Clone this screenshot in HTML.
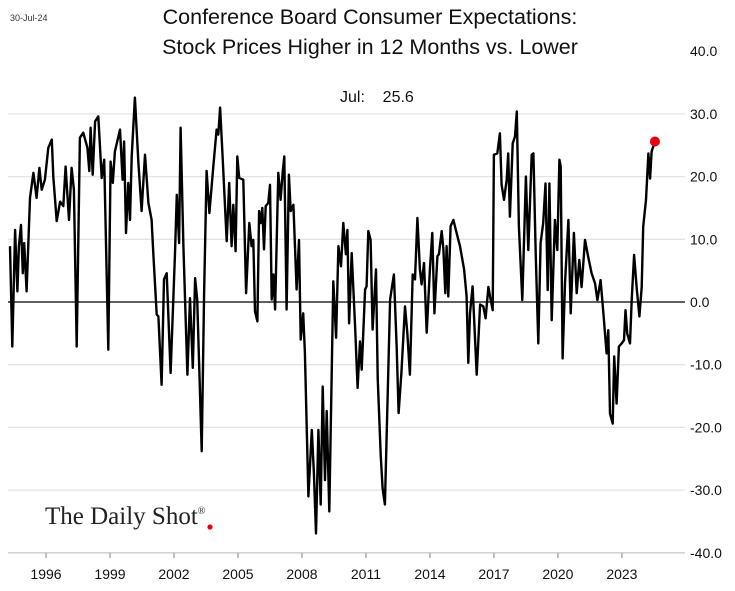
<!DOCTYPE html>
<html><head><meta charset="utf-8"><style>
body{margin:0;background:#fff;width:735px;height:586px;overflow:hidden}
.sans{font-family:"Liberation Sans",sans-serif}
</style></head><body>
<svg id="chart" width="735" height="586" xmlns="http://www.w3.org/2000/svg">
<text class="sans" x="10" y="21" font-size="9" fill="#333">30-Jul-24</text>
<text class="sans" x="370" y="24" font-size="21.5" text-anchor="middle" fill="#111">Conference Board Consumer Expectations:</text>
<text class="sans" x="370" y="54" font-size="21.5" text-anchor="middle" fill="#111">Stock Prices Higher in 12 Months vs. Lower</text>
<text class="sans" x="340" y="102" font-size="16" fill="#111">Jul:&#160;&#160;&#160;&#160;25.6</text>
<g id="grid"></g><g id="yl"></g><g id="xl"></g>
<path id="line" fill="none" stroke="#000" stroke-width="2.4" stroke-linejoin="round"/>
<circle id="dot" r="5" fill="#e8000b"/>
<text x="45" y="524" style="font-family:'Liberation Serif',serif" font-size="25" fill="#222">The Daily Shot<tspan font-size="10" dy="-10">®</tspan></text>
<circle cx="210" cy="527" r="2.6" fill="#e8000b"/>
</svg>
<script>
const yTicks=[40,30,20,10,0,-10,-20,-30,-40];
const xTicks=[1996,1999,2002,2005,2008,2011,2014,2017,2020,2023];
const dates=[1994.31,1994.42,1994.55,1994.66,1994.73,1994.83,1994.91,1994.98,1995.09,1995.25,1995.41,1995.56,1995.69,1995.80,1995.95,1996.11,1996.27,1996.34,1996.50,1996.66,1996.81,1996.92,1997.08,1997.20,1997.31,1997.44,1997.59,1997.75,1997.94,1998.03,1998.09,1998.19,1998.30,1998.45,1998.61,1998.73,1998.92,1999.03,1999.13,1999.23,1999.47,1999.59,1999.66,1999.75,1999.86,1999.94,2000.02,2000.17,2000.33,2000.48,2000.64,2000.80,2000.95,2001.03,2001.19,2001.27,2001.42,2001.53,2001.66,2001.84,2002.05,2002.13,2002.24,2002.31,2002.44,2002.63,2002.75,2002.88,2002.99,2003.09,2003.19,2003.30,2003.41,2003.53,2003.66,2003.84,2004.00,2004.08,2004.16,2004.28,2004.47,2004.59,2004.70,2004.78,2004.89,2004.97,2005.06,2005.25,2005.38,2005.53,2005.64,2005.72,2005.80,2005.91,2005.99,2006.06,2006.14,2006.22,2006.30,2006.42,2006.50,2006.58,2006.66,2006.74,2006.89,2007.00,2007.10,2007.17,2007.28,2007.39,2007.47,2007.60,2007.75,2007.86,2007.94,2008.06,2008.14,2008.30,2008.46,2008.56,2008.66,2008.77,2008.88,2008.97,2009.08,2009.16,2009.28,2009.47,2009.60,2009.71,2009.83,2009.94,2010.06,2010.13,2010.21,2010.33,2010.49,2010.61,2010.72,2010.80,2010.96,2011.03,2011.11,2011.22,2011.31,2011.47,2011.55,2011.69,2011.78,2011.89,2012.13,2012.31,2012.44,2012.53,2012.66,2012.83,2012.94,2013.06,2013.19,2013.30,2013.41,2013.53,2013.61,2013.72,2013.85,2014.00,2014.11,2014.21,2014.35,2014.42,2014.55,2014.63,2014.72,2014.78,2014.86,2014.97,2015.10,2015.25,2015.41,2015.60,2015.72,2015.80,2015.88,2016.00,2016.19,2016.35,2016.50,2016.61,2016.74,2016.85,2016.94,2017.00,2017.16,2017.28,2017.36,2017.47,2017.60,2017.67,2017.75,2017.88,2017.99,2018.07,2018.17,2018.33,2018.50,2018.61,2018.77,2018.85,2018.96,2019.08,2019.19,2019.31,2019.42,2019.52,2019.60,2019.71,2019.86,2019.97,2020.07,2020.13,2020.22,2020.33,2020.49,2020.60,2020.75,2020.88,2021.00,2021.11,2021.27,2021.42,2021.58,2021.74,2021.85,2022.00,2022.13,2022.28,2022.36,2022.44,2022.57,2022.64,2022.75,2022.86,2022.99,2023.10,2023.17,2023.25,2023.38,2023.46,2023.57,2023.69,2023.82,2023.93,2024.00,2024.13,2024.24,2024.32,2024.39,2024.47,2024.55];
const values=[8.9,-7.1,11.5,1.7,8.9,12.3,4.6,9.4,1.7,16.6,20.6,16.6,21.4,17.9,19.5,24.6,25.9,20,12.9,16,15.3,21.6,13.1,21.4,17.9,-7.1,26.2,27,24.6,20.9,27.8,20.3,28.8,29.6,19.8,22.7,-7.6,22.4,19,24,27.5,19.5,25.6,11,19,13.1,23.2,32.6,22.2,14.5,23.5,15.8,13.1,7.8,-2,-2.3,-13.2,3.6,4.6,-11.3,7.8,17.1,9.4,27.8,8.9,-11.6,0.6,-10.5,3.8,0.4,-11.3,-23.8,1.4,20.9,14.2,21.4,27.5,26.7,31,23.2,9.7,19,8.9,15.5,8.1,23.2,19.8,19.5,1.4,12.6,8.9,9.9,-1.5,-3.1,14.5,12.6,15,8.4,15.3,15.8,18.7,0.4,4.4,-1.2,20.6,16.3,20.9,23.2,-1.2,20.3,14.5,15.5,2,9.9,-6,-1.8,-8.1,-31,-20.4,-27.3,-36.9,-20.4,-32.3,-13.5,-28.4,-17.4,-33.4,3.3,-5.7,8.9,5.7,12.6,7.6,11.5,-3.4,7.8,-3.9,-13.7,-6.3,-10.8,2,2.5,11.3,9.9,-4.4,5.2,-12.1,-24.4,-29.7,-32.3,0.4,4.4,-7.3,-17.7,-11.3,-0.7,-4.9,-11.6,4.4,3.6,13.4,5.2,2.8,6.2,-4.9,5.2,11,-1.8,7.3,7.6,11.3,8.4,1.4,8.9,0.9,12.1,13.1,11,8.9,5.2,0.9,-9.7,-1.8,2.5,-11.6,-0.4,-0.7,-2.6,2.4,0.3,-1.3,23.5,23.7,26.9,18.7,16.3,19.5,23.7,13.6,25.3,26.4,30.4,12,0.3,20,8.3,23.5,23.7,7.8,-6.6,9.4,12.6,18.9,1.9,18.9,-2.9,13.1,8.3,22.7,21.6,-9,3,13.1,-1.8,11,1.4,6.7,2.4,9.9,7.2,4.6,3,0.3,3.5,-1.8,-8.2,-4.5,-17.8,-19.4,-8.7,-16.2,-7.1,-6.6,-6.1,-1.3,-5,-6.6,0.3,7.5,2.4,-2.3,2.4,12,16.3,23.7,19.7,24,24.8,25.6];
const NS='http://www.w3.org/2000/svg';
const L=8,R=685;
function xs(t){return 46+(t-1996)*21.33;}
function ys(v){return 302-v*6.27;}
function mk(tag,at,parent){const e=document.createElementNS(NS,tag);for(const k in at)e.setAttribute(k,at[k]);parent.appendChild(e);return e;}
const grid=document.getElementById('grid'),yl=document.getElementById('yl'),xl=document.getElementById('xl');
yTicks.forEach(v=>{
  const y=ys(v);
  if(v!==40){
    const g=mk('line',{x1:L,x2:R,y1:y,y2:y,stroke:v===0?'#000':(v===-40?'#ccc':'#e4e4e4'),'stroke-width':v===0?1.2:1.3},grid);
    
    
  }
  const t=mk('text',{x:690,y:y+5,'font-size':14,fill:'#111','class':'sans'},yl);
  t.textContent=v.toFixed(1);
  
  
});
xTicks.forEach(yr=>{
  const x=xs(yr);
  const tk=mk('line',{x1:x,x2:x,y1:553,y2:558,stroke:'#888','stroke-width':1},xl);
  
  
  const t=mk('text',{x:x,y:579,'font-size':14,fill:'#111','text-anchor':'middle','class':'sans'},xl);
  t.textContent=yr;
  
  
});
let d='';
dates.forEach((t,i)=>{d+=(i?'L':'M')+xs(t).toFixed(1)+' '+ys(values[i]).toFixed(1);});
document.getElementById('line').setAttribute('d',d);
const dot=document.getElementById('dot');
dot.setAttribute('cx',xs(dates[dates.length-1]));
dot.setAttribute('cy',ys(values[values.length-1]));
</script>
</body></html>
